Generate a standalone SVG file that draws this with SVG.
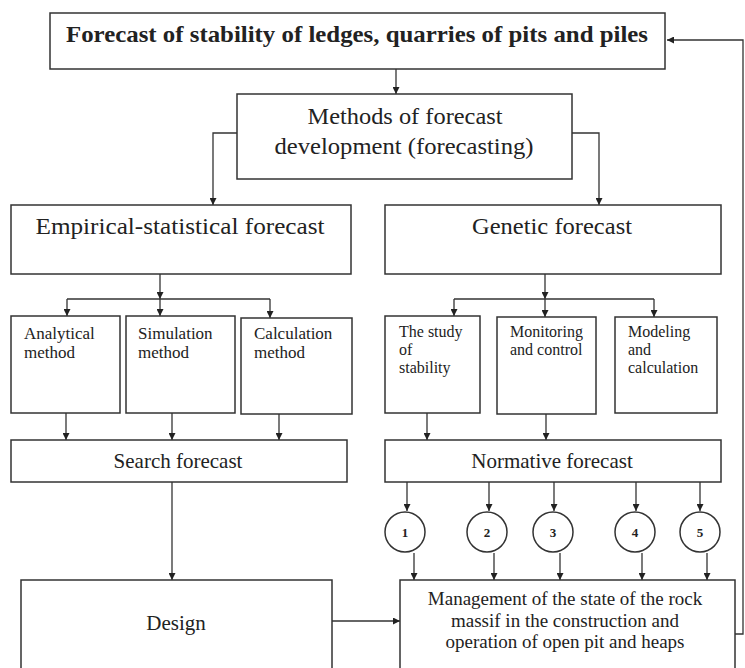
<svg xmlns="http://www.w3.org/2000/svg" width="745" height="668" viewBox="0 0 745 668">
<style>
.box{fill:#fff;stroke:#333;stroke-width:1.5}
.c{fill:none;stroke:#333;stroke-width:1.3}
.t{font-family:"Liberation Serif","Times New Roman",serif;fill:#222}
.b{font-weight:bold}
.m{text-anchor:middle}
</style>
<defs>
<marker id="ah" viewBox="0 0 10 10" refX="10" refY="5" markerWidth="7" markerHeight="7" markerUnits="userSpaceOnUse" orient="auto">
<path d="M0,0 L10,5 L0,10 z" fill="#222"/>
</marker>
</defs>
<rect width="745" height="668" fill="#fff"/>
<g id="connectors">
<polyline class="c" points="735,634 743,634 743,40 667,40" marker-end="url(#ah)"/>
<line class="c" x1="396" y1="69" x2="396" y2="94" marker-end="url(#ah)"/>
<polyline class="c" points="237,133 213,133 213,205" marker-end="url(#ah)"/>
<polyline class="c" points="572,133 599,133 599,205" marker-end="url(#ah)"/>
<line class="c" x1="160" y1="274" x2="160" y2="299" marker-end="url(#ah)"/>
<line class="c" x1="67" y1="299" x2="270" y2="299"/>
<line class="c" x1="67" y1="299" x2="67" y2="316" marker-end="url(#ah)"/>
<line class="c" x1="160" y1="299" x2="160" y2="316" marker-end="url(#ah)"/>
<line class="c" x1="270" y1="299" x2="270" y2="318" marker-end="url(#ah)"/>
<line class="c" x1="545" y1="274" x2="545" y2="299" marker-end="url(#ah)"/>
<line class="c" x1="454" y1="299" x2="654" y2="299"/>
<line class="c" x1="454" y1="299" x2="454" y2="316" marker-end="url(#ah)"/>
<line class="c" x1="545" y1="299" x2="545" y2="317" marker-end="url(#ah)"/>
<line class="c" x1="654" y1="299" x2="654" y2="317" marker-end="url(#ah)"/>
<line class="c" x1="66" y1="413" x2="66" y2="440" marker-end="url(#ah)"/>
<line class="c" x1="172" y1="413" x2="172" y2="440" marker-end="url(#ah)"/>
<line class="c" x1="279" y1="414" x2="279" y2="440" marker-end="url(#ah)"/>
<line class="c" x1="427" y1="413" x2="427" y2="440" marker-end="url(#ah)"/>
<line class="c" x1="546" y1="414" x2="546" y2="440" marker-end="url(#ah)"/>
<line class="c" x1="172" y1="482" x2="172" y2="580" marker-end="url(#ah)"/>
<line class="c" x1="332" y1="621" x2="400" y2="621" marker-end="url(#ah)"/>
<line class="c" x1="407" y1="482" x2="407" y2="511" marker-end="url(#ah)"/>
<line class="c" x1="489" y1="482" x2="489" y2="511" marker-end="url(#ah)"/>
<line class="c" x1="554" y1="482" x2="554" y2="511" marker-end="url(#ah)"/>
<line class="c" x1="636" y1="482" x2="636" y2="511" marker-end="url(#ah)"/>
<line class="c" x1="700" y1="482" x2="700" y2="511" marker-end="url(#ah)"/>
<line class="c" x1="414" y1="553" x2="414" y2="580" marker-end="url(#ah)"/>
<line class="c" x1="494" y1="553" x2="494" y2="580" marker-end="url(#ah)"/>
<line class="c" x1="560" y1="553" x2="560" y2="580" marker-end="url(#ah)"/>
<line class="c" x1="642" y1="553" x2="642" y2="580" marker-end="url(#ah)"/>
<line class="c" x1="707" y1="553" x2="707" y2="580" marker-end="url(#ah)"/>
</g>
<g id="top">
<rect class="box" x="50" y="13" width="615" height="56"/>
<text class="t b m" x="357" y="42" font-size="23" textLength="582" lengthAdjust="spacingAndGlyphs">Forecast of stability of ledges, quarries of pits and piles</text>
</g>
<g id="methods">
<rect class="box" x="237" y="94" width="335" height="85"/>
<text class="t m" x="405" y="124" font-size="23" textLength="195" lengthAdjust="spacingAndGlyphs">Methods of forecast</text>
<text class="t m" x="404" y="154" font-size="23" textLength="259" lengthAdjust="spacingAndGlyphs">development (forecasting)</text>
</g>
<g id="empirical">
<rect class="box" x="11" y="205" width="340" height="69"/>
<text class="t m" x="180" y="234" font-size="24" textLength="289" lengthAdjust="spacingAndGlyphs">Empirical-statistical forecast</text>
</g>
<g id="genetic">
<rect class="box" x="385" y="205" width="336" height="69"/>
<text class="t m" x="552" y="234" font-size="24" textLength="160" lengthAdjust="spacingAndGlyphs">Genetic forecast</text>
</g>
<g id="analytical">
<rect class="box" x="11" y="316" width="109" height="97"/>
<text class="t" x="24" y="339" font-size="17">Analytical</text>
<text class="t" x="24" y="358" font-size="17">method</text>
</g>
<g id="simulation">
<rect class="box" x="126" y="316" width="109" height="97"/>
<text class="t" x="138" y="339" font-size="17">Simulation</text>
<text class="t" x="138" y="358" font-size="17">method</text>
</g>
<g id="calculation">
<rect class="box" x="241" y="318" width="111" height="96"/>
<text class="t" x="254" y="339" font-size="17">Calculation</text>
<text class="t" x="254" y="358" font-size="17">method</text>
</g>
<g id="study">
<rect class="box" x="385" y="316" width="95" height="97"/>
<text class="t" x="399" y="337" font-size="16">The study</text>
<text class="t" x="399" y="355" font-size="16">of</text>
<text class="t" x="399" y="373" font-size="16">stability</text>
</g>
<g id="monitoring">
<rect class="box" x="497" y="317" width="99" height="97"/>
<text class="t" x="510" y="337" font-size="16">Monitoring</text>
<text class="t" x="510" y="355" font-size="16">and control</text>
</g>
<g id="modeling">
<rect class="box" x="615" y="317" width="102" height="96"/>
<text class="t" x="628" y="337" font-size="16">Modeling</text>
<text class="t" x="628" y="355" font-size="16">and</text>
<text class="t" x="628" y="373" font-size="16">calculation</text>
</g>
<g id="search">
<rect class="box" x="11" y="440" width="336" height="42"/>
<text class="t m" x="178" y="468" font-size="21">Search forecast</text>
</g>
<g id="normative">
<rect class="box" x="385" y="440" width="336" height="42"/>
<text class="t m" x="552" y="468" font-size="21">Normative forecast</text>
</g>
<g id="n1"><circle class="box" cx="405" cy="532" r="20"/><text class="t b m" x="405" y="537" font-size="13">1</text></g>
<g id="n2"><circle class="box" cx="487" cy="532" r="20"/><text class="t b m" x="487" y="537" font-size="13">2</text></g>
<g id="n3"><circle class="box" cx="553" cy="532" r="20"/><text class="t b m" x="553" y="537" font-size="13">3</text></g>
<g id="n4"><circle class="box" cx="635" cy="532" r="20"/><text class="t b m" x="635" y="537" font-size="13">4</text></g>
<g id="n5"><circle class="box" cx="700" cy="532" r="20"/><text class="t b m" x="700" y="537" font-size="13">5</text></g>
<g id="design">
<rect class="box" x="21" y="580" width="311" height="110"/>
<text class="t m" x="176" y="630" font-size="21">Design</text>
</g>
<g id="management">
<rect class="box" x="400" y="580" width="335" height="110"/>
<text class="t m" x="565" y="605" font-size="19">Management of the state of the rock</text>
<text class="t m" x="565" y="627" font-size="19">massif in the construction and</text>
<text class="t m" x="565" y="648" font-size="19">operation of open pit and heaps</text>
</g>
</svg>
